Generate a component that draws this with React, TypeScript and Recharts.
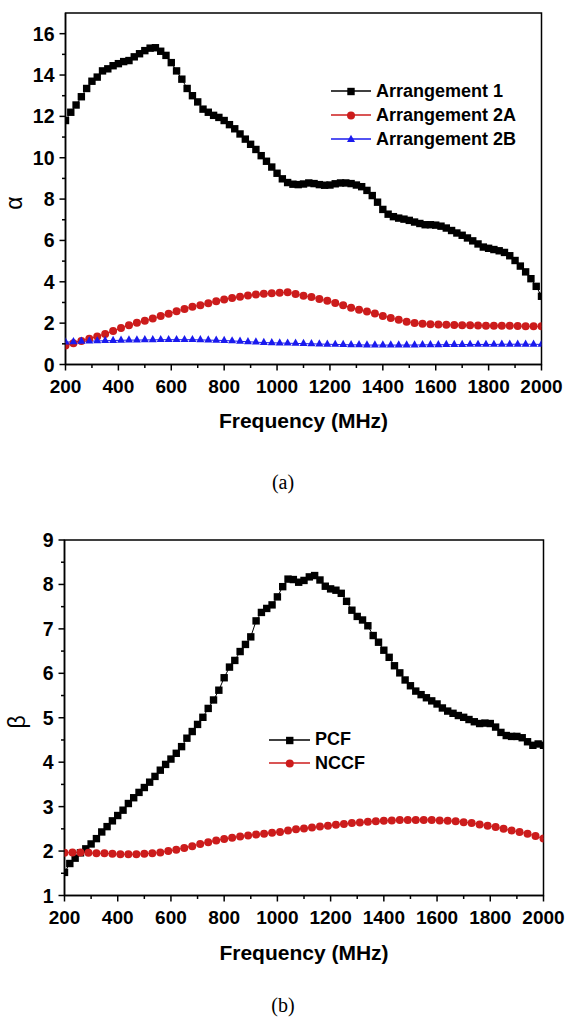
import React from 'react';
import { LineChart, Line, XAxis, YAxis, ReferenceArea, Legend } from 'recharts';

// frequency grids (MHz)
const freqFine = [
  200, 220, 240, 260, 280, 300, 320, 340, 360, 380,
  400, 420, 440, 460, 480, 500, 520, 540, 560, 580,
  600, 620, 640, 660, 680, 700, 720, 740, 760, 780,
  800, 820, 840, 860, 880, 900, 920, 940, 960, 980,
  1000, 1020, 1040, 1060, 1080, 1100, 1120, 1140, 1160, 1180,
  1200, 1220, 1240, 1260, 1280, 1300, 1320, 1340, 1360, 1380,
  1400, 1420, 1440, 1460, 1480, 1500, 1520, 1540, 1560, 1580,
  1600, 1620, 1640, 1660, 1680, 1700, 1720, 1740, 1760, 1780,
  1800, 1820, 1840, 1860, 1880, 1900, 1920, 1940, 1960, 1980,
  2000,
];
const freqCoarse = [
  200, 230, 260, 290, 320, 350, 380, 410, 440, 470,
  500, 530, 560, 590, 620, 650, 680, 710, 740, 770,
  800, 830, 860, 890, 920, 950, 980, 1010, 1040, 1070,
  1100, 1130, 1160, 1190, 1220, 1250, 1280, 1310, 1340, 1370,
  1400, 1430, 1460, 1490, 1520, 1550, 1580, 1610, 1640, 1670,
  1700, 1730, 1760, 1790, 1820, 1850, 1880, 1910, 1940, 1970,
  2000,
];

// (a) alpha
const arrangement1 = [
  11.8, 12.2, 12.55, 12.95, 13.35, 13.7, 13.9, 14.2, 14.3, 14.45,
  14.55, 14.65, 14.7, 14.88, 15.03, 15.18, 15.3, 15.32, 15.15, 14.95,
  14.6, 14.2, 13.8, 13.35, 13.0, 12.7, 12.35, 12.2, 12.05, 11.95,
  11.8, 11.6, 11.4, 11.15, 10.9, 10.65, 10.4, 10.1, 9.83, 9.55,
  9.25, 8.98, 8.8, 8.72, 8.7, 8.73, 8.78, 8.75, 8.7, 8.67,
  8.68, 8.74, 8.78, 8.78, 8.75, 8.68, 8.6, 8.42, 8.17, 7.85,
  7.5, 7.27, 7.15, 7.08, 7.03, 6.97, 6.89, 6.82, 6.76, 6.76,
  6.74, 6.69, 6.6, 6.48, 6.36, 6.25, 6.12, 5.98, 5.83, 5.68,
  5.62, 5.56, 5.5, 5.42, 5.26, 5.03, 4.76, 4.48, 4.15, 3.78,
  3.3,
];
const arrangement2A = [
  0.92, 1.03, 1.14, 1.25, 1.36, 1.48, 1.62, 1.76, 1.9, 2.02,
  2.11, 2.23, 2.35, 2.46, 2.58, 2.69, 2.79, 2.87, 2.96, 3.06,
  3.14, 3.22, 3.28, 3.34, 3.39, 3.42, 3.44, 3.47, 3.5, 3.41,
  3.33, 3.26, 3.17, 3.08, 2.98, 2.87, 2.75, 2.65, 2.56, 2.47,
  2.35, 2.25, 2.16, 2.07, 2.01, 1.97, 1.95, 1.93, 1.92, 1.91,
  1.9, 1.9, 1.89, 1.88, 1.88, 1.87, 1.87, 1.86, 1.85, 1.85,
  1.85,
];
const arrangement2B = [
  1.08, 1.1, 1.12, 1.13, 1.14, 1.15, 1.16, 1.17, 1.18, 1.18,
  1.19, 1.19, 1.2, 1.2, 1.2, 1.2, 1.2, 1.19, 1.18, 1.17,
  1.16, 1.14, 1.12, 1.1, 1.08, 1.06, 1.05, 1.04, 1.03, 1.02,
  1.01, 1.0, 0.99, 0.98, 0.97, 0.96, 0.95, 0.95, 0.94, 0.94,
  0.94, 0.94, 0.94, 0.94, 0.94, 0.95, 0.95, 0.95, 0.96, 0.96,
  0.96, 0.97, 0.97, 0.97, 0.97, 0.98, 0.98, 0.98, 0.98, 0.98,
  0.97,
];

// (b) beta
const pcf = [
  1.52, 1.72, 1.84, 1.96, 2.05, 2.16, 2.28, 2.43, 2.55, 2.68,
  2.8, 2.92, 3.07, 3.2, 3.32, 3.43, 3.55, 3.68, 3.82, 3.95,
  4.07, 4.2, 4.35, 4.54, 4.69, 4.85, 5.01, 5.21, 5.4, 5.62,
  5.9, 6.14, 6.29, 6.49, 6.65, 6.82, 7.18, 7.37, 7.46, 7.54,
  7.72, 7.95, 8.12, 8.11, 8.05, 8.09, 8.17, 8.2, 8.1, 7.96,
  7.9, 7.87, 7.8, 7.62, 7.42, 7.28, 7.2, 7.07, 6.85, 6.7,
  6.52, 6.36, 6.17, 6.01, 5.85, 5.72, 5.6, 5.52, 5.45, 5.38,
  5.31, 5.22, 5.15, 5.1, 5.05, 5.01, 4.96, 4.91, 4.87, 4.88,
  4.87, 4.79, 4.67, 4.6, 4.58, 4.58, 4.55, 4.46, 4.38, 4.41,
  4.38,
];
const nccf = [
  1.96, 1.97, 1.97, 1.96, 1.95, 1.95, 1.94, 1.93, 1.93, 1.93,
  1.94, 1.95, 1.97, 2.0, 2.03, 2.07, 2.11, 2.16, 2.2, 2.24,
  2.27, 2.3, 2.33, 2.35, 2.37, 2.39, 2.41, 2.43, 2.46, 2.49,
  2.51, 2.53, 2.55, 2.57, 2.59, 2.61, 2.63, 2.64, 2.66, 2.67,
  2.68, 2.69, 2.7, 2.7, 2.7, 2.7, 2.7, 2.69, 2.68, 2.67,
  2.65, 2.63, 2.6, 2.57, 2.54, 2.5, 2.46, 2.43, 2.39, 2.34,
  2.28,
];

const xTicks = [
  200, 300, 400, 500, 600, 700, 800, 900, 1000, 1100,
  1200, 1300, 1400, 1500, 1600, 1700, 1800, 1900, 2000,
];
const alphaTicks = [0, 1, 2, 3, 4, 5, 6, 7, 8, 9, 10, 11, 12, 13, 14, 15, 16];
const betaTicks = [1, 1.5, 2, 2.5, 3, 3.5, 4, 4.5, 5, 5.5, 6, 6.5, 7, 7.5, 8, 8.5, 9];

const toPoints = (xs: number[], ys: number[]) => xs.map((f, i) => ({ f, v: ys[i] }));

const BLACK = '#000000';
const RED = '#cc1c1c';
const BLUE = '#1a1aee';
const SANS = '"Liberation Sans", Arial, sans-serif';
const SERIF = '"Liberation Serif", "Times New Roman", serif';

type Shape = 'square' | 'circle' | 'triangle';

function marker(shape: Shape, color: string, cx: number, cy: number, key?: string) {
  if (shape === 'square') {
    return <rect key={key} x={cx - 3.7} y={cy - 3.7} width={7.4} height={7.4} fill={color} />;
  }
  if (shape === 'circle') {
    return <circle key={key} cx={cx} cy={cy} r={4} fill={color} />;
  }
  return (
    <polygon
      key={key}
      points={`${cx},${cy - 4.8} ${cx + 4},${cy + 2.4} ${cx - 4},${cy + 2.4}`}
      fill={color}
    />
  );
}

const dotFor = (shape: Shape, color: string) => (p: any) => {
  if (p.cx == null || p.cy == null) return <g key={`e-${p.index}`} />;
  return marker(shape, color, p.cx, p.cy, `${shape}-${p.index}`);
};

const xTickFor = (axisY: number) => (p: any) => {
  const v = p.payload.value;
  const major = v % 200 === 0;
  return (
    <g>
      <line x1={p.x} x2={p.x} y1={axisY} y2={axisY + (major ? 6 : 3.5)} stroke={BLACK} strokeWidth={1.5} />
      {major && (
        <text x={p.x} y={axisY + 15.5} dy="0.71em" textAnchor="middle" fontFamily={SANS} fontWeight="bold" fontSize={19} fill={BLACK}>
          {v}
        </text>
      )}
    </g>
  );
};

const yTickFor = (axisX: number, isMajor: (v: number) => boolean) => (p: any) => {
  const v = p.payload.value;
  const major = isMajor(v);
  return (
    <g>
      <line x1={axisX - (major ? 6 : 3.5)} x2={axisX} y1={p.y} y2={p.y} stroke={BLACK} strokeWidth={1.5} />
      {major && (
        <text x={axisX - 11} y={p.y} dy="0.36em" textAnchor="end" fontFamily={SANS} fontWeight="bold" fontSize={19.5} fill={BLACK}>
          {v}
        </text>
      )}
    </g>
  );
};

type LegendItem = { name: string; color: string; shape: Shape };

const legendContent = (items: LegendItem[], lineW: number, rowH: number) => () => (
  <div style={{ fontFamily: SANS, fontWeight: 'bold', fontSize: 18, color: BLACK }}>
    {items.map((it) => (
      <div key={it.name} style={{ display: 'flex', alignItems: 'center', height: rowH, whiteSpace: 'nowrap' }}>
        <svg width={lineW} height={12} style={{ marginRight: 5 }}>
          <line x1={0} x2={lineW} y1={6} y2={6} stroke={it.color} strokeWidth={1.3} />
          {marker(it.shape, it.color, lineW / 2, 6.5)}
        </svg>
        <span>{it.name}</span>
      </div>
    ))}
  </div>
);

const legendA: LegendItem[] = [
  { name: 'Arrangement 1', color: BLACK, shape: 'square' },
  { name: 'Arrangement 2A', color: RED, shape: 'circle' },
  { name: 'Arrangement 2B', color: BLUE, shape: 'triangle' },
];
const legendB: LegendItem[] = [
  { name: 'PCF', color: BLACK, shape: 'square' },
  { name: 'NCCF', color: RED, shape: 'circle' },
];

function Caption({ x, y, text, size, family, weight, rotate }: any) {
  return (
    <div
      style={{
        position: 'absolute',
        left: x,
        top: y,
        transform: `translate(-50%, -50%)${rotate ? ' rotate(-90deg)' : ''}`,
        fontFamily: family,
        fontWeight: weight,
        fontSize: size,
        lineHeight: 1,
        whiteSpace: 'nowrap',
        color: BLACK,
      }}
    >
      {text}
    </div>
  );
}

// plot boxes (chart-local px)
const A = { top: 13, bottom: 364.5, left: 65.5, right: 541.5, h: 440 };
const B = { top: 20, bottom: 375.5, left: 64.5, right: 543.5, h: 440, offset: 520 };

export default function App() {
  const a1 = toPoints(freqFine, arrangement1);
  const a2 = toPoints(freqCoarse, arrangement2A);
  const a3 = toPoints(freqCoarse, arrangement2B);
  const b1 = toPoints(freqFine, pcf);
  const b2 = toPoints(freqCoarse, nccf);

  return (
    <div style={{ position: 'relative', width: 565, height: 1024, background: '#fff', overflow: 'hidden' }}>
      <style>{'body{margin:0;background:#fff}'}</style>

      <div style={{ position: 'absolute', left: 0, top: 0 }}>
        <LineChart width={565} height={A.h} margin={{ top: A.top, right: 565 - A.right, bottom: A.h - A.bottom - 40, left: 0 }}>
          <XAxis
            type="number"
            dataKey="f"
            domain={[200, 2000]}
            ticks={xTicks}
            interval={0}
            height={40}
            axisLine={{ stroke: BLACK, strokeWidth: 1.5 }}
            tickLine={false}
            tick={xTickFor(A.bottom)}
            allowDataOverflow
          />
          <YAxis
            type="number"
            dataKey="v"
            domain={[0, 17]}
            ticks={alphaTicks}
            interval={0}
            width={A.left}
            axisLine={{ stroke: BLACK, strokeWidth: 1.5 }}
            tickLine={false}
            tick={yTickFor(A.left, (v) => v % 2 === 0)}
            allowDataOverflow
          />
          <ReferenceArea x1={200} x2={2000} y1={0} y2={17} fill="none" stroke={BLACK} strokeWidth={1.5} />
          <Line data={a1} dataKey="v" name="Arrangement 1" stroke={BLACK} strokeWidth={1} dot={dotFor('square', BLACK)} isAnimationActive={false} />
          <Line data={a2} dataKey="v" name="Arrangement 2A" stroke={RED} strokeWidth={1} dot={dotFor('circle', RED)} isAnimationActive={false} />
          <Line data={a3} dataKey="v" name="Arrangement 2B" stroke={BLUE} strokeWidth={1} dot={dotFor('triangle', BLUE)} isAnimationActive={false} />
          <Legend
            layout="vertical"
            align="center"
            verticalAlign="middle"
            content={legendContent(legendA, 40, 24)}
            wrapperStyle={{ left: 331, top: 79, width: 'auto' }}
          />
        </LineChart>
      </div>

      <div style={{ position: 'absolute', left: 0, top: B.offset }}>
        <LineChart width={565} height={B.h} margin={{ top: B.top, right: 565 - B.right, bottom: B.h - B.bottom - 40, left: 0 }}>
          <XAxis
            type="number"
            dataKey="f"
            domain={[200, 2000]}
            ticks={xTicks}
            interval={0}
            height={40}
            axisLine={{ stroke: BLACK, strokeWidth: 1.5 }}
            tickLine={false}
            tick={xTickFor(B.bottom)}
            allowDataOverflow
          />
          <YAxis
            type="number"
            dataKey="v"
            domain={[1, 9]}
            ticks={betaTicks}
            interval={0}
            width={B.left}
            axisLine={{ stroke: BLACK, strokeWidth: 1.5 }}
            tickLine={false}
            tick={yTickFor(B.left, (v) => Number.isInteger(v))}
            allowDataOverflow
          />
          <ReferenceArea x1={200} x2={2000} y1={1} y2={9} fill="none" stroke={BLACK} strokeWidth={1.5} />
          <Line data={b1} dataKey="v" name="PCF" stroke={BLACK} strokeWidth={1} dot={dotFor('square', BLACK)} isAnimationActive={false} />
          <Line data={b2} dataKey="v" name="NCCF" stroke={RED} strokeWidth={1} dot={dotFor('circle', RED)} isAnimationActive={false} />
          <Legend
            layout="vertical"
            align="center"
            verticalAlign="middle"
            content={legendContent(legendB, 41.5, 23.5)}
            wrapperStyle={{ left: 268.5, top: 208, width: 'auto' }}
          />
        </LineChart>
      </div>

      <Caption x={14} y={203} text="α" size={23} family={SANS} weight="normal" rotate />
      <Caption x={303.5} y={420} text="Frequency (MHz)" size={21} family={SANS} weight="bold" />
      <Caption x={283} y={482} text="(a)" size={20} family={SERIF} weight="normal" />

      <Caption x={17} y={722} text="β" size={23} family={SANS} weight="normal" rotate />
      <Caption x={304} y={951.7} text="Frequency (MHz)" size={21} family={SANS} weight="bold" />
      <Caption x={283} y={1005} text="(b)" size={20} family={SERIF} weight="normal" />
    </div>
  );
}
